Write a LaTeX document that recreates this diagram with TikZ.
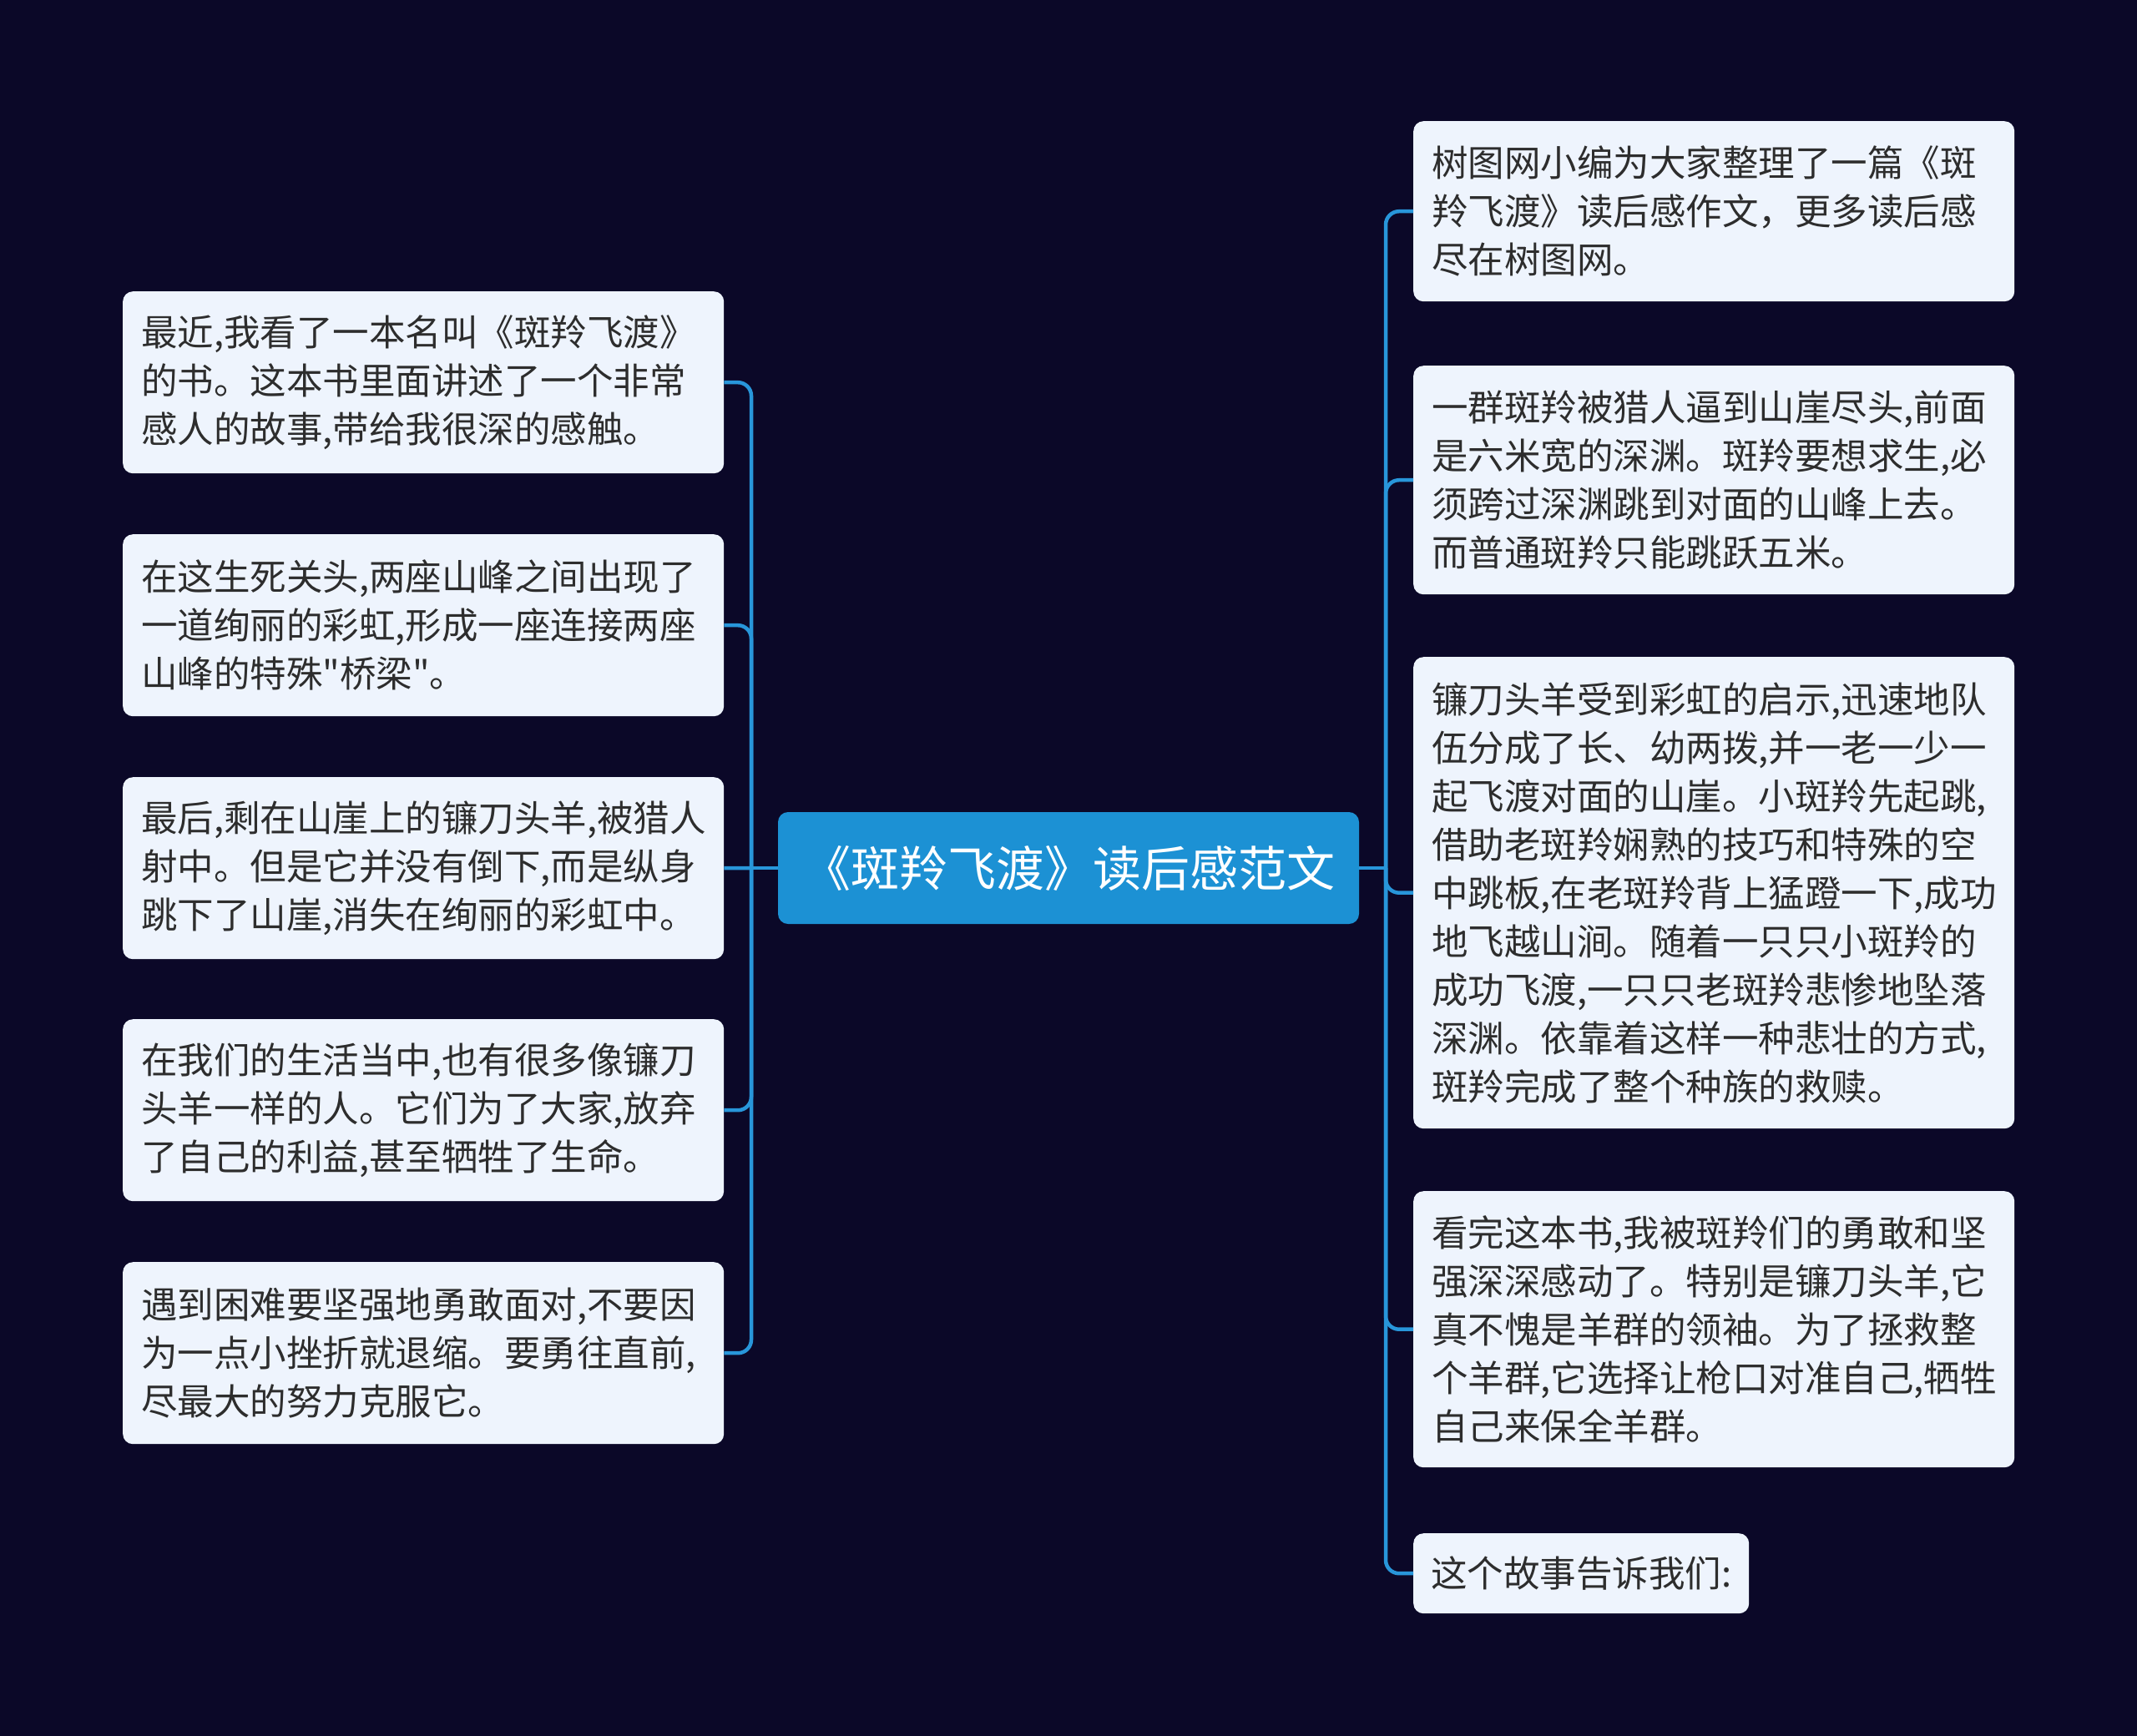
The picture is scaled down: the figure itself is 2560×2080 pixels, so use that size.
\documentclass[tikz,border=0pt]{standalone}
\usepackage{fontspec}
\newfontfamily\cjk{Noto Sans CJK SC}
\definecolor{bg}{RGB}{11,8,40}
\definecolor{leaffill}{RGB}{238,244,253}
\definecolor{txt}{RGB}{45,45,45}
\definecolor{rootfill}{RGB}{28,145,212}
\definecolor{conncol}{RGB}{40,150,218}
\begin{document}
\begin{tikzpicture}[x=1pt,y=-1pt,
  leaf/.style={draw=none, fill=leaffill, rounded corners=12pt, anchor=north west,
    text width=676pt, inner xsep=22pt, inner ysep=0pt, align=left, text=txt,
    font=\cjk\fontsize{43.5pt}{58pt}\selectfont, minimum width=720pt},
  rootnode/.style={draw=none, fill=rootfill, rounded corners=12pt, text=white,
    font=\cjk\fontsize{58pt}{70pt}\selectfont, minimum width=696pt, minimum height=134pt, inner sep=0pt},
  conn/.style={draw=conncol, line width=4.5pt, rounded corners=16pt}]
\useasboundingbox (0,0) rectangle (2560,2080);
\fill[bg] (0,0) rectangle (2560,2080);

\node[rootnode] (C) at (1280,1040) {《斑羚飞渡》读后感范文};

\node[leaf, minimum height=218pt] (L1) at (147,349) {最近,我看了一本名叫《斑羚飞渡》\\的书。这本书里面讲述了一个非常\\感人的故事,带给我很深的感触。};
\node[leaf, minimum height=218pt] (L2) at (147,640) {在这生死关头,两座山峰之间出现了\\一道绚丽的彩虹,形成一座连接两座\\山峰的特殊"桥梁"。};
\node[leaf, minimum height=218pt] (L3) at (147,931) {最后,剩在山崖上的镰刀头羊,被猎人\\射中。但是它并没有倒下,而是纵身\\跳下了山崖,消失在绚丽的彩虹中。};
\node[leaf, minimum height=218pt] (L4) at (147,1221) {在我们的生活当中,也有很多像镰刀\\头羊一样的人。它们为了大家,放弃\\了自己的利益,甚至牺牲了生命。};
\node[leaf, minimum height=218pt] (L5) at (147,1512) {遇到困难要坚强地勇敢面对,不要因\\为一点小挫折就退缩。要勇往直前,\\尽最大的努力克服它。};

\node[leaf, minimum height=216pt] (R1) at (1693,145) {树图网小编为大家整理了一篇《斑\\羚飞渡》读后感作文，更多读后感\\尽在树图网。};
\node[leaf, minimum height=274pt] (R2) at (1693,438) {一群斑羚被猎人逼到山崖尽头,前面\\是六米宽的深渊。斑羚要想求生,必\\须跨过深渊跳到对面的山峰上去。\\而普通斑羚只能跳跃五米。};
\node[leaf, minimum height=565pt] (R3) at (1693,787) {镰刀头羊受到彩虹的启示,迅速地队\\伍分成了长、幼两拨,并一老一少一\\起飞渡对面的山崖。小斑羚先起跳,\\借助老斑羚娴熟的技巧和特殊的空\\中跳板,在老斑羚背上猛蹬一下,成功\\地飞越山涧。随着一只只小斑羚的\\成功飞渡,一只只老斑羚悲惨地坠落\\深渊。依靠着这样一种悲壮的方式,\\斑羚完成了整个种族的救赎。};
\node[leaf, minimum height=331pt] (R4) at (1693,1427) {看完这本书,我被斑羚们的勇敢和坚\\强深深感动了。特别是镰刀头羊,它\\真不愧是羊群的领袖。为了拯救整\\个羊群,它选择让枪口对准自己,牺牲\\自己来保全羊群。};
\node[leaf, minimum height=96pt, minimum width=402pt, text width=360pt, inner xsep=21pt] (R5) at (1693,1837) {这个故事告诉我们:};

\coordinate (lj) at (900,1040);
\coordinate (rj) at (1660,1040);

\draw[conn] (C.west) -- (lj);
\draw[conn] (lj) |- (L1.east);
\draw[conn] (lj) |- (L2.east);
\draw[conn] (lj) -- (L3.east);
\draw[conn] (lj) |- (L4.east);
\draw[conn] (lj) |- (L5.east);

\draw[conn] (C.east) -- (rj);
\draw[conn] (rj) |- (R1.west);
\draw[conn] (rj) |- (R2.west);
\draw[conn] (rj) |- (R3.west);
\draw[conn] (rj) |- (R4.west);
\draw[conn] (rj) |- (R5.west);
\end{tikzpicture}
\end{document}
